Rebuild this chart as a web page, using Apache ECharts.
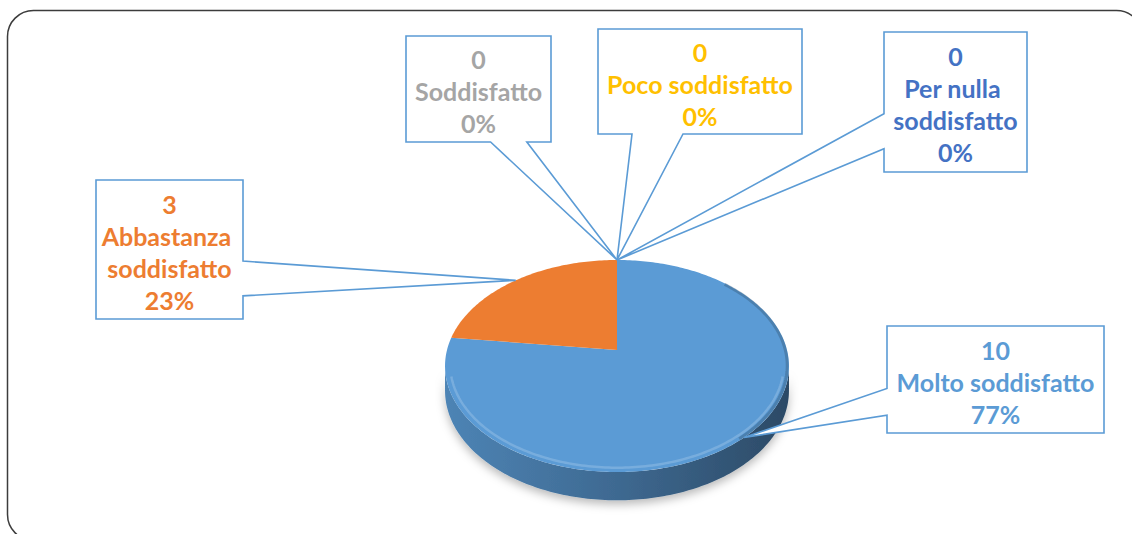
<!DOCTYPE html>
<html>
<head>
<meta charset="utf-8">
<script src="https://cdn.jsdelivr.net/npm/echarts@6/dist/echarts.min.js"></script>
<style>
  html, body { margin: 0; padding: 0; background: #fff; }
  #chart { width: 1132px; height: 534px; }
</style>
</head>
<body>
<div id="chart"></div>
<script>
// data
var categories = ['Molto soddisfatto', 'Abbastanza soddisfatto', 'Soddisfatto', 'Poco soddisfatto', 'Per nulla soddisfatto'];
var counts = [10, 3, 0, 0, 0];

// styles
var palette = ['#5B9BD5', '#ED7D31', '#A5A5A5', '#FFC000', '#4472C4'];
var calloutBorder = '#5B9BD5';

// callout boxes [x, y, w, h], same order as categories
var boxes = [
  [887, 326, 217, 107],
  [96, 180, 147, 139],
  [406, 36, 145, 106],
  [598, 29, 204, 105],
  [884, 32, 143, 140]
];

// 3d pie geometry (perspective)
var CX = 617, CY = 350, RX = 170, KY = 103.6, PA = 0.151, DEPTH = 24;

var total = counts.reduce(function (a, b) { return a + b; }, 0);
var starts = [];
var acc = 0;
for (var i = 0; i < counts.length; i++) {
  starts.push(acc / total * 360);
  acc += counts[i];
}

// angle in degrees, clockwise from 12 o'clock
function proj(deg, r, dz) {
  var t = deg * Math.PI / 180;
  var u = Math.sin(t) * r, v = -Math.cos(t) * r;
  var s = 1 / (1 - PA * v);
  return [CX + RX * u * s, CY + KY * v * s + (dz || 0) * s];
}

function arcPts(a0, a1, r, dz) {
  var pts = [];
  var n = Math.max(2, Math.ceil(Math.abs(a1 - a0)));
  for (var k = 0; k <= n; k++) {
    pts.push(proj(a0 + (a1 - a0) * k / n, r, dz));
  }
  return pts;
}

// darker shade of a colour, f in 0..1
function shade(color, f) {
  var c = echarts.color.parse(color);
  return 'rgb(' + Math.round(c[0] * f) + ',' + Math.round(c[1] * f) + ',' + Math.round(c[2] * f) + ')';
}
function tint(color, f) {
  var c = echarts.color.parse(color);
  return 'rgb(' + Math.round(c[0] + (255 - c[0]) * f) + ',' + Math.round(c[1] + (255 - c[1]) * f) + ',' + Math.round(c[2] + (255 - c[2]) * f) + ')';
}

var frontLo = Math.acos(-PA) * 180 / Math.PI;
var frontHi = 360 - frontLo;

function renderSlice(params, api) {
  var i = params.dataIndex;
  var v = api.value(0);
  if (!v) return null;
  var a0 = starts[i], a1 = a0 + v / total * 360;
  var color = palette[i];
  var children = [];

  var lo = Math.max(a0, frontLo), hi = Math.min(a1, frontHi);
  if (hi > lo) {
    var top = arcPts(lo, hi, 1, 0);
    var bot = arcPts(hi, lo, 1, DEPTH);
    children.push({
      type: 'polygon',
      shape: { points: top.concat(bot) },
      style: {
        fill: new echarts.graphic.LinearGradient(0, 0, 1, 0, [
          { offset: 0, color: shade(color, 0.85) },
          { offset: 0.5, color: shade(color, 0.68) },
          { offset: 1, color: shade(color, 0.48) }
        ]),
        shadowBlur: 10,
        shadowOffsetY: 4,
        shadowColor: 'rgba(0,0,0,0.28)'
      }
    });
  }

  var face = [proj(0, 0, 0)].concat(arcPts(a0, a1, 1, 0));
  children.push({
    type: 'polygon',
    shape: { points: face },
    style: { fill: color }
  });

  // soft dark edge on the right of the top face
  var rlo = Math.max(a0, 45), rhi = Math.min(a1, 140);
  if (rhi > rlo) {
    children.push({
      type: 'polyline',
      shape: { points: arcPts(rlo, rhi, 0.99, 0) },
      style: { stroke: shade(color, 0.5), lineWidth: 3, fill: null, opacity: 0.35 }
    });
  }

  // light bevel along the front rim
  if (hi > lo) {
    children.push({
      type: 'polyline',
      shape: { points: arcPts(lo + 6, hi - 6, 0.97, 0) },
      style: { stroke: tint(color, 0.3), lineWidth: 2.5, fill: null, opacity: 0.6 }
    });
  }
  return { type: 'group', children: children };
}

function calloutShape(b, tip) {
  var x = b[0], y = b[1], w = b[2], h = b[3];
  var cx = x + w / 2, cy = y + h / 2;
  var dx = (tip[0] - cx) / w, dy = (tip[1] - cy) / h;
  var p1, p2, pts;
  if (Math.abs(dx) > Math.abs(dy)) {
    p1 = tip[1] > cy ? y + h * 7 / 12 : y + h * 2 / 12;
    p2 = tip[1] > cy ? y + h * 10 / 12 : y + h * 5 / 12;
    if (dx > 0) {
      pts = [[x, y], [x + w, y], [x + w, p1], tip, [x + w, p2], [x + w, y + h], [x, y + h]];
    } else {
      pts = [[x, y], [x + w, y], [x + w, y + h], [x, y + h], [x, p2], tip, [x, p1]];
    }
  } else {
    p1 = tip[0] > cx ? x + w * 7 / 12 : x + w * 2 / 12;
    p2 = tip[0] > cx ? x + w * 10 / 12 : x + w * 5 / 12;
    if (dy > 0) {
      pts = [[x, y], [x + w, y], [x + w, y + h], [p2, y + h], tip, [p1, y + h], [x, y + h]];
    } else {
      pts = [[x, y], [p1, y], tip, [p2, y], [x + w, y], [x + w, y + h], [x, y + h]];
    }
  }
  return pts;
}

function renderCallout(params, api) {
  var i = params.dataIndex;
  var v = api.value(0);
  var mid = starts[i] + v / total * 180;
  var tip = proj(mid, 1, 0);
  var b = boxes[i];
  var pct = Math.round(v / total * 100);
  return {
    type: 'group',
    children: [
      {
        type: 'polygon',
        shape: { points: calloutShape(b, tip) },
        style: { fill: '#fff', stroke: calloutBorder, lineWidth: 1.6 }
      },
      {
        type: 'text',
        style: {
          x: b[0] + b[2] / 2,
          y: b[1] + b[3] / 2 + 2,
          text: v + '\n' + categories[i] + '\n' + pct + '%',
          align: 'center',
          verticalAlign: 'middle',
          fill: palette[i],
          fontFamily: 'Lato',
          fontWeight: 'bold',
          fontSize: 25,
          lineHeight: 32,
          width: b[2] - 8,
          overflow: 'break'
        }
      }
    ]
  };
}

var chart = echarts.init(document.getElementById('chart'), null, { renderer: 'svg' });
chart.setOption({
  animation: false,
  backgroundColor: '#fff',
  graphic: [{
    type: 'rect',
    shape: { x: 7.5, y: 10.5, width: 1135, height: 530, r: 26 },
    style: { fill: 'none', stroke: '#3c3c3c', lineWidth: 1.5 },
    silent: true
  }],
  series: [
    {
      type: 'custom',
      coordinateSystem: 'none',
      data: counts,
      renderItem: renderSlice,
      z: 2
    },
    {
      type: 'custom',
      coordinateSystem: 'none',
      data: counts,
      renderItem: renderCallout,
      z: 3
    }
  ]
});
</script>
</body>
</html>
